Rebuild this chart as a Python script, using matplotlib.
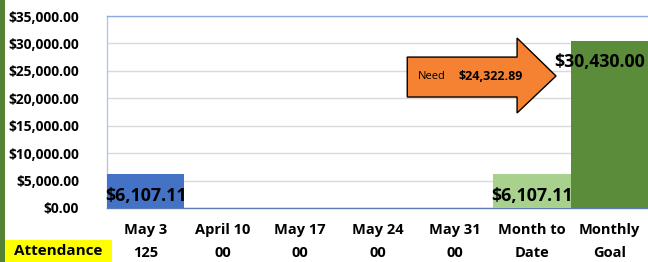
import matplotlib.pyplot as plt
from matplotlib.patches import Rectangle, Polygon

# ---------------- DATA ---------------- #
labels = ["May 3", "April 10", "May 17", "May 24", "May 31", "Month to", "Monthly"]
second_line = ["125", "00", "00", "00", "00", "Date", "Goal"]
values = [6107.11, 0, 0, 0, 0, 6107.11, 30430.00]
colors = ["#4472C4", "#4472C4", "#4472C4", "#4472C4", "#4472C4", "#A9D18E", "#5B8C3A"]
need_amount = 24322.89

plt.rcParams["font.family"] = ["Open Sans", "DejaVu Sans"]

# ---------------- FIGURE ---------------- #
fig = plt.figure(figsize=(6.48, 2.62), dpi=100)
ax = fig.add_axes([107 / 648, 54 / 262, 541 / 648, 192 / 262])

x = list(range(len(values)))
ax.bar(x, values, width=1.0, color=colors, zorder=3)

ax.set_xlim(-0.5, len(values) - 0.5)
ax.set_ylim(0, 35000)
ax.set_yticks(range(0, 35001, 5000))
ax.set_yticklabels([f"${v:,.2f}" for v in range(0, 35001, 5000)],
                   fontsize=9.9, fontweight="bold")
ax.set_xticks(x)
ax.set_xticklabels([f"{a}\n{b}" for a, b in zip(labels, second_line)],
                   fontsize=10.5, fontweight="bold", linespacing=1.75)
ax.tick_params(axis="both", length=0)
ax.tick_params(axis="y", pad=20)
ax.tick_params(axis="x", pad=11)

ax.grid(axis="y", color="#D9D9D9", linewidth=1, zorder=0)
ax.spines["right"].set_visible(False)
ax.spines["top"].set_color("#8FAADC")
ax.spines["left"].set_color("#B4C7E7")
ax.spines["bottom"].set_color("#5B7DB8")
for s in ax.spines.values():
    s.set_linewidth(1.0)

# data labels
for i in [0, 5]:
    ax.text(i, 2200, f"${values[i]:,.2f}", ha="center", va="center",
            fontsize=12.8, fontweight="bold", zorder=5)
ax.text(5.88, 26600, f"${values[6]:,.2f}", ha="center", va="center",
        fontsize=12.8, fontweight="bold", zorder=5)

# arrow callout
arrow_pts = [(0.555, 0.786), (0.758, 0.786), (0.758, 0.885), (0.830, 0.6875),
             (0.758, 0.495), (0.758, 0.578), (0.555, 0.578)]
ax.add_patch(Polygon(arrow_pts, closed=True, transform=ax.transAxes,
                     facecolor="#F58232", edgecolor="black", linewidth=1.0, zorder=4))
ax.text(0.575, 0.685, "Need", transform=ax.transAxes, fontsize=8,
        va="center", ha="left", zorder=5)
ax.text(0.650, 0.685, f"${need_amount:,.2f}", transform=ax.transAxes, fontsize=9,
        fontweight="bold", va="center", ha="left", zorder=5)

# left green strip and attendance label
fig.patches.append(Rectangle((0, 0), 5 / 648, 1, transform=fig.transFigure,
                             facecolor="#548235", edgecolor="none"))
fig.patches.append(Rectangle((5 / 648, 0), 107 / 648, 22 / 262, transform=fig.transFigure,
                             facecolor="#FFFF00", edgecolor="none"))
fig.text(58 / 648, 11 / 262, "Attendance", ha="center", va="center",
         fontsize=11, fontweight="bold")

plt.savefig("out.png", dpi=100)
plt.close()
